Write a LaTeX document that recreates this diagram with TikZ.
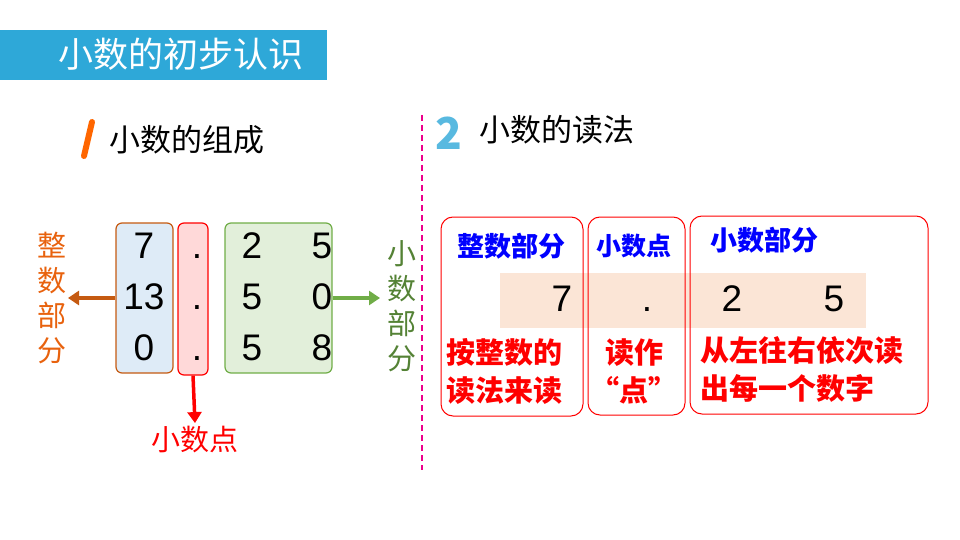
\documentclass[tikz,border=0pt]{standalone}
\usepackage{fontspec}
\setmainfont{Noto Sans CJK SC}
\newfontfamily\digitfont{Liberation Sans}
\usetikzlibrary{arrows.meta}
\definecolor{titlecyan}{HTML}{2EA8D8}
\definecolor{intbrown}{HTML}{C55A11}
\definecolor{intorange}{HTML}{E8620E}
\definecolor{intfill}{HTML}{DEEBF7}
\definecolor{decgreen}{HTML}{70AD47}
\definecolor{decdark}{HTML}{548235}
\definecolor{peach}{HTML}{FBE5D6}
\begin{document}
\begin{tikzpicture}[x=1pt,y=-1pt,
    numtxt/.style={font=\digitfont\fontsize{37}{37}\selectfont,text height=26.5pt,text depth=0pt,inner sep=0pt},
    head/.style={font=\fontsize{31}{31}\selectfont,anchor=west},
    vert/.style={font=\fontsize{29}{35}\selectfont,align=center,inner sep=0pt},
    col/.style={rounded corners=6pt,line width=1.2pt},
    readbox/.style={draw=red,rounded corners=12pt,line width=1pt},
    bluetxt/.style={text=blue,font=\bfseries\fontsize{27}{27}\selectfont},
    redtxt/.style={text=red,font=\bfseries\fontsize{29}{38}\selectfont,align=left,inner sep=0pt,anchor=west},
    arr/.style={-{Triangle[length=11pt,width=14pt]},line width=3.5pt}
  ]
  \useasboundingbox (0,0) rectangle (960,540);
  % Title bar.
  \fill[titlecyan] (0,30) rectangle (327,80);
  \node[text=white,font=\fontsize{35}{35}\selectfont,anchor=west] (title) at (55,54) {小数的初步认识};
  % Part 1.
  \draw[orange!80!red,line width=6pt,line cap=round] (92,122) -- (84,156);
  \node[head] (h1) at (106,140) {小数的组成};
  \node[col,draw=intbrown,fill=intfill,minimum width=57pt,minimum height=150pt] (intcol) at (144.5,298) {};
  \node[col,draw=red,fill=red!15,minimum width=30pt,minimum height=152pt] (dotcol) at (193,299) {};
  \node[col,draw=decgreen,fill=decgreen!20,minimum width=107pt,minimum height=150pt] (deccol) at (278.5,298) {};
  \foreach \y/\a/\b/\c in {245/7/2/5,296/13/5/0,347/0/5/8}{
    \node[numtxt] at (144,\y) {\a};
    \node[numtxt] at (197,\y) {.};
    \node[numtxt] at (252,\y) {\b};
    \node[numtxt] at (322,\y) {\c};
  }
  \node[vert,text=intorange] (intlbl) at (52,298) {整\\数\\部\\分};
  \node[vert,text=decdark] (declbl) at (402,306) {小\\数\\部\\分};
  \node[text=red,font=\fontsize{29}{29}\selectfont] (dotlbl) at (195,440) {小数点};
  \draw[arr,intbrown] (intcol.west) -- (68,298);
  \draw[arr,decgreen] (deccol.east) -- (380,298);
  \draw[arr,red] (dotcol.south) -- (dotlbl.north);
  % Separator.
  \draw[magenta,dash pattern=on 6pt off 4pt,line width=1.5pt] (422,115) -- (422,470);
  % Part 2.
  \node[text=titlecyan!80!white,font=\bfseries\fontsize{44}{44}\selectfont] (two) at (449,133) {2};
  \node[head] (h2) at (476,130) {小数的读法};
  \fill[peach] (500,273) rectangle (866,328);
  \draw[readbox] (441,217) rectangle (583,416);
  \draw[readbox] (588,217) rectangle (685,415);
  \draw[readbox] (690,216) rectangle (928,414);
  \node[bluetxt] (b1) at (511,246) {整数部分};
  \node[bluetxt,font=\bfseries\fontsize{25}{25}\selectfont] (b2) at (634,246) {小数点};
  \node[bluetxt] (b3) at (764,240) {小数部分};
  \node[numtxt] at (562,298) {7};
  \node[numtxt] at (647,298) {.};
  \node[numtxt] at (732,298) {2};
  \node[numtxt] at (834,298) {5};
  \node[redtxt] (r1) at (446,371) {按整数的\\读法来读};
  \node[redtxt,align=center,anchor=center] (r2) at (634,371) {读作\\“点”};
  \node[redtxt] (r3) at (700,369) {从左往右依次读\\出每一个数字};
\end{tikzpicture}
\end{document}
